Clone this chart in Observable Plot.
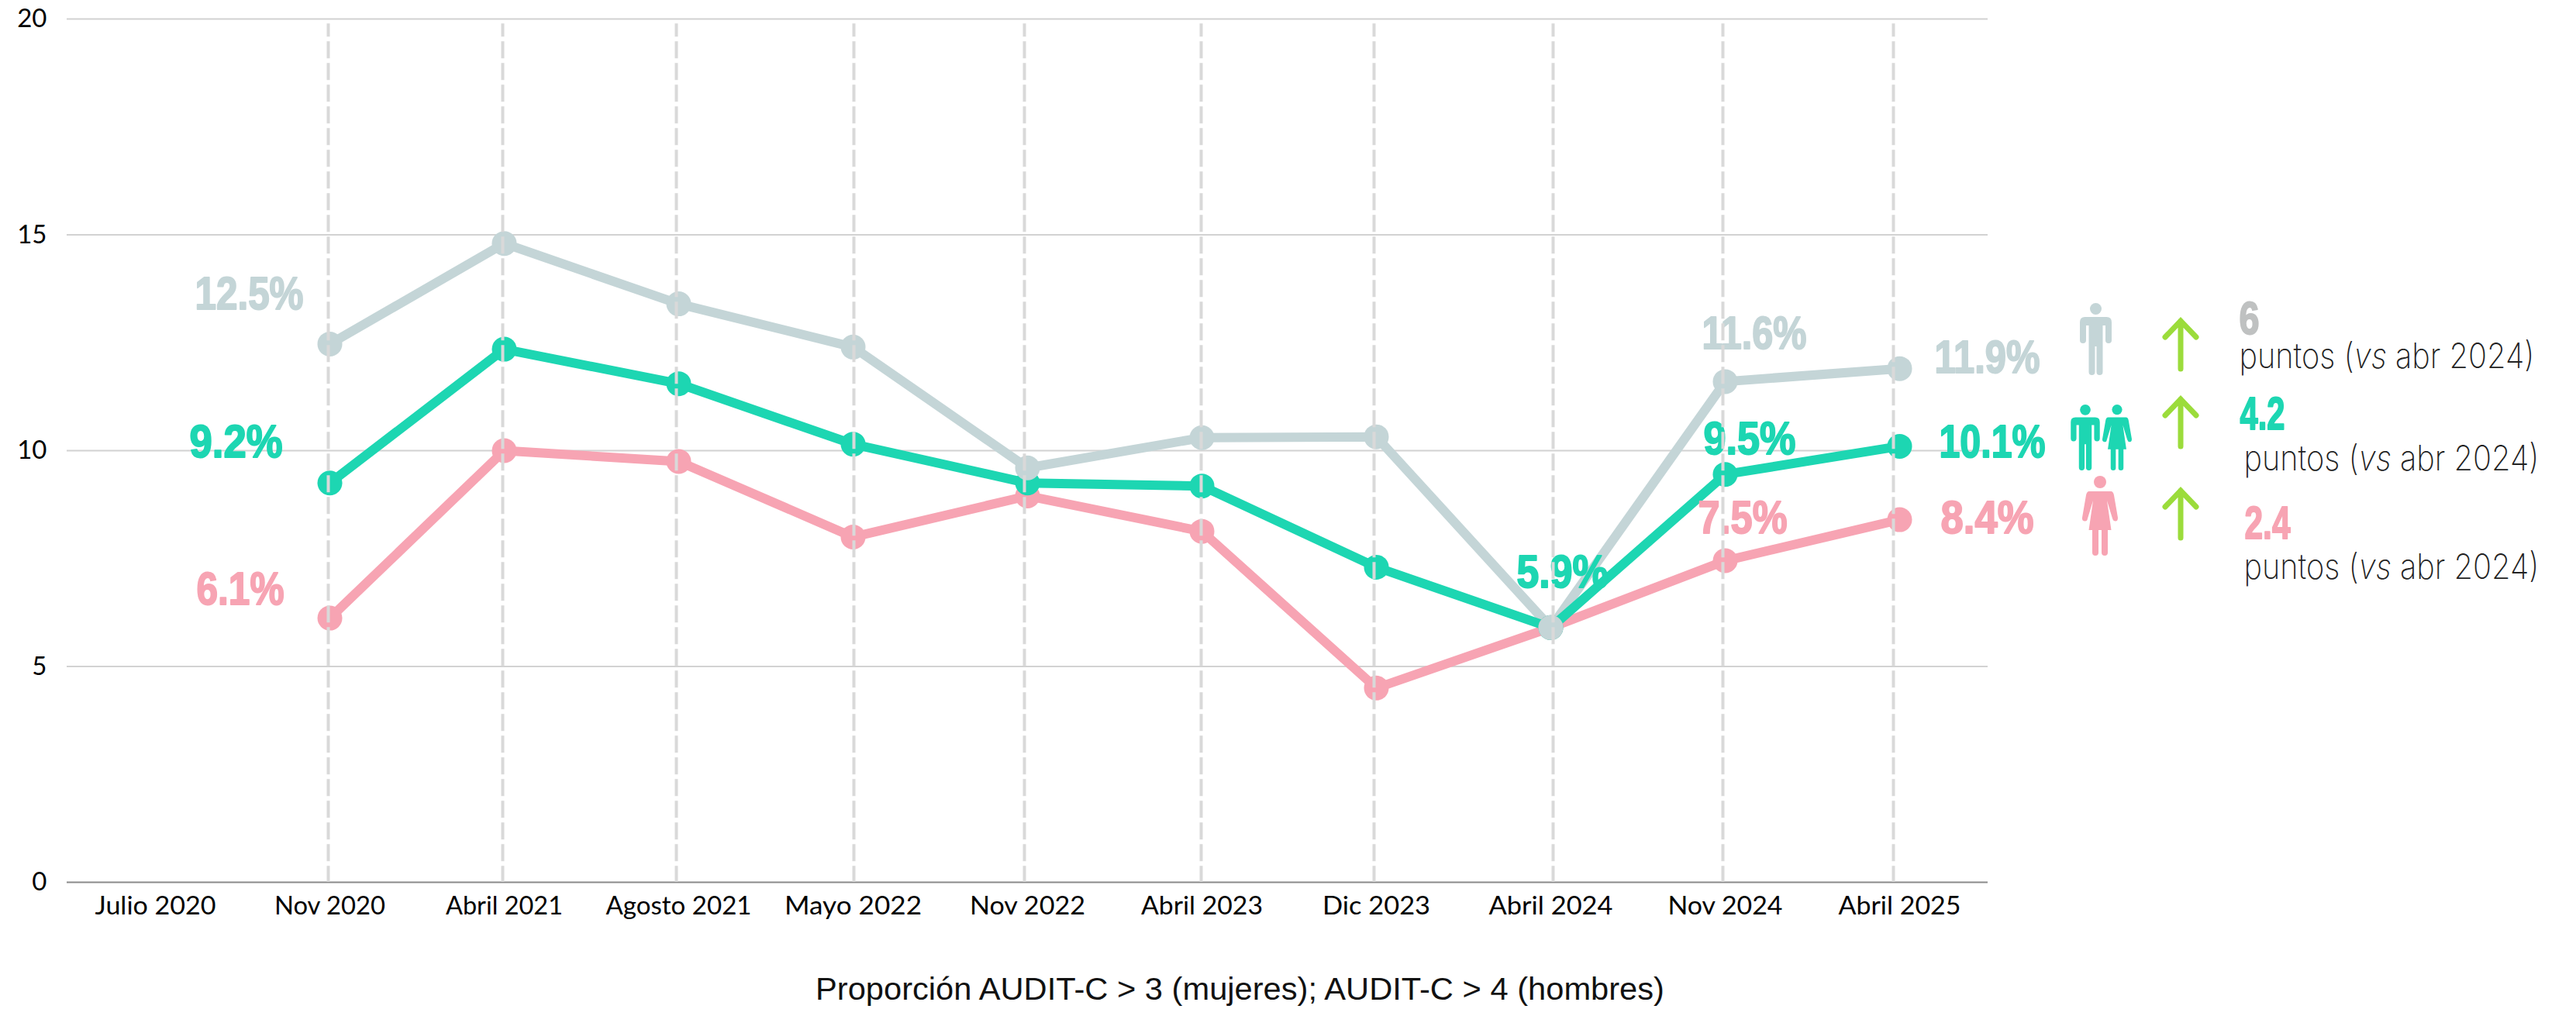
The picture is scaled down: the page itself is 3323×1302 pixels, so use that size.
<!DOCTYPE html>
<html><head><meta charset="utf-8">
<script src="https://cdn.jsdelivr.net/npm/d3@7"></script>
<script src="https://cdn.jsdelivr.net/npm/@observablehq/plot@0.6"></script>
<style>html,body{margin:0;background:#fff}svg{display:block}</style>
</head><body><div id="chart"></div>
<script>
const periods=["Julio 2020","Nov 2020","Abril 2021","Agosto 2021","Mayo 2022","Nov 2022","Abril 2023","Dic 2023","Abril 2024","Nov 2024","Abril 2025"];
const tickWidths=[156,143,151,188,177,149,157,139,160,148,158];
const measured=periods.slice(1);
const hombres=[12.47,14.8,13.4,12.4,9.6,10.3,10.32,5.9,11.6,11.9];
const total=[9.25,12.35,11.55,10.15,9.25,9.18,7.3,5.9,9.45,10.1];
const mujeres=[6.12,10,9.75,8,8.95,8.13,4.5,5.9,7.45,8.4];
const gray="#c4d5d7",green="#1dd6b2",pink="#f7a4b3";
const ML=86,MT=24;
const rows=(vals)=>vals.map((v,i)=>({p:measured[i],v}));
const dashOffsets=[-2,-2,-3,1,-4,-1,-3,3,-3,-8];
const pctLabels=[
 ["12.5%",gray,251,379,140],["9.2%",green,244,570,120],["6.1%",pink,253,760,113],
 ["5.9%",green,1956,738,118],["11.6%",gray,2195,430,135],["9.5%",green,2197,566,119],
 ["7.5%",pink,2190,668,115],["11.9%",gray,2495,461,136],["10.1%",green,2501,570,137],["8.4%",pink,2503,668,120]
];
const legendValues=[["6","#bfc1c1",2888,411,26],["4.2",green,2889,534,58],["2.4",pink,2895,675,59]];
const legendNotes=[[2888,460],[2894,592],[2894,732]];
const arrowsAt=[[2813,410,479],[2813,511,579],[2813,629,697]];
const lab=(cls)=>([t,c,x,y])=>Plot.text([t],{frameAnchor:"top-left",dx:x-ML,dy:y-MT,text:d=>d,fill:c,stroke:c,strokeWidth:2,fontFamily:"Liberation Sans",fontWeight:700,fontSize:60,textAnchor:"start",lineAnchor:"middle",className:cls});
function icons(){
 const g=d3.create("svg:g");
 const man=(cx,top,c,s=1)=>{const a=g.append("g").attr("transform",`translate(${cx},${top}) scale(${s})`).attr("fill",c);
  a.append("circle").attr("cx",0).attr("cy",7.500).attr("r",7.500);
  a.append("path").attr("d","M-14 18Q-20.500 18-20.500 25V48Q-20.500 52-16.500 52T-12.500 48V29H-9V89Q-9 93-5 93T-1 89V56H1V89Q1 93 5 93T9 89V29H12.500V48Q12.500 52 16.500 52T20.500 48V25Q20.500 18 14 18Z");};
 const woman=(cx,top,c,s=1)=>{const a=g.append("g").attr("transform",`translate(${cx},${top}) scale(${s})`).attr("fill",c);
  a.append("circle").attr("cx",0).attr("cy",8).attr("r",8);
  a.append("path").attr("d","M-14 20Q-17 20-18 25L-23 54Q-23.500 58-20 58.500T-16 55L-9 32L-14.500 70H-10V99Q-10 103-6 103T-2 99V70H2V99Q2 103 6 103T10 99V70H14.500L9 32L16 55Q17 58.500 20 58.500T23 54L18 25Q17 20 14 20Z");};
 man(2703.5,391,gray);
 man(2690,522,green,.914);woman(2731,522,green,.825);
 woman(2709,614,pink,1);
 for(const [x,a,b] of arrowsAt){
  g.append("path").attr("d",`M${x} ${b-3}V${a+4}M${x-20} ${a+25}L${x} ${a+4}L${x+20} ${a+25}`).attr("fill","none").attr("stroke","#9bdc3b").attr("stroke-width",7).attr("stroke-linecap","round");
 }
 return g.node();
}
const series=[[hombres,gray],[mujeres,pink],[total,green]];
const plot=Plot.plot({
 width:3323,height:1302,marginLeft:ML,marginRight:759,marginTop:MT,marginBottom:164,
 style:{background:"#fff",fontFamily:"Lato, sans-serif"},
 x:{domain:periods,type:"point",padding:.5,label:null},
 y:{domain:[0,20],label:null},
 marks:[
  Plot.ruleY([5,10,15,20],{stroke:"#d2d2d2",strokeWidth:2}),
  Plot.ruleY([0],{stroke:"#8a8a8a",strokeWidth:2}),
  ...series.map(([v,c])=>Plot.line(rows(v),{x:"p",y:"v",stroke:c,strokeWidth:12,strokeLinejoin:"round"})),
  ...[[mujeres,pink],[total,green],[hombres,gray]].map(([v,c])=>Plot.dot(rows(v),{x:"p",y:"v",fill:c,r:16})),
  ...pctLabels.map(lab("pct")),
  ...measured.map((p,i)=>Plot.ruleX([p],{y1:19.89,y2:0,dx:dashOffsets[i],stroke:"#d9d9d9",strokeWidth:4,strokeDasharray:"22 6",strokeDashoffset:5})),
  Plot.axisX({tickSize:0,tickPadding:18,fontSize:33,fill:"#000",label:null,className:"xt"}),
  Plot.axisY({tickSize:0,tickPadding:26,fontSize:33,fill:"#000",label:null,className:"yt",ticks:[0,5,10,15,20]}),
  Plot.text(["Proporción AUDIT-C > 3 (mujeres); AUDIT-C > 4 (hombres)"],{frameAnchor:"top-left",dx:1599-ML,dy:1277-MT,text:d=>d,fontFamily:"Liberation Sans",fontSize:40,fill:"#111",textAnchor:"middle",lineAnchor:"middle",className:"title"}),
  ...legendValues.map(lab("lv")),
  ...legendNotes.map(([x,y])=>Plot.text(["n"],{frameAnchor:"top-left",dx:x-ML,dy:y-MT,text:d=>d,fontFamily:"Inter",fontWeight:200,fontSize:45,fill:"#222",textAnchor:"start",lineAnchor:"middle",className:"note"})),
  icons
 ]
});
document.getElementById("chart").append(plot);
const fit=(sel,widths)=>d3.select(plot).selectAll(sel).each(function(_,i){this.setAttribute("textLength",widths[i]);this.setAttribute("lengthAdjust","spacingAndGlyphs");});
fit(".pct text",pctLabels.map(d=>d[4]));
fit(".lv text",legendValues.map(d=>d[4]));
fit(".xt text",tickWidths);
fit(".title text",[1095]);
d3.select(plot).selectAll(".note text").each(function(){
 this.textContent="";
 const s=d3.select(this);
 s.append("tspan").text("puntos (");s.append("tspan").attr("font-style","italic").text("vs");s.append("tspan").text(" abr 2024)");
 this.setAttribute("textLength",381);this.setAttribute("lengthAdjust","spacingAndGlyphs");
});
</script></body></html>
